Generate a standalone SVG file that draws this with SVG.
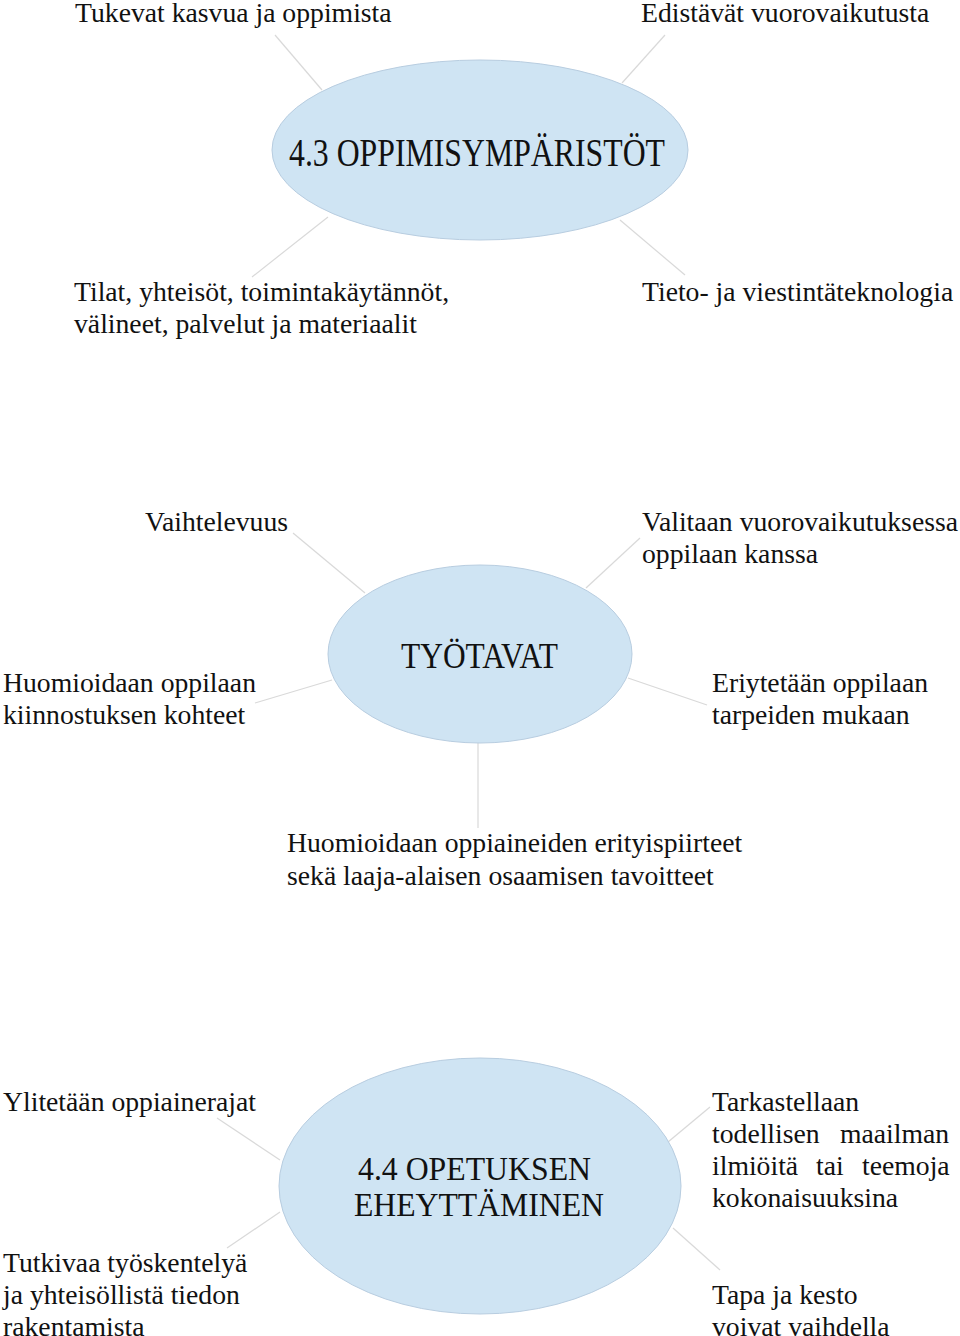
<svg xmlns="http://www.w3.org/2000/svg" width="960" height="1336" viewBox="0 0 960 1336">
<style>
.bg{fill:#ffffff}
.node{fill:#cfe4f3;stroke:#b8cde0;stroke-width:1}
.lbl{font-family:"Liberation Serif","Times New Roman",serif;font-size:27.7px;fill:#111111}
.ttl{font-family:"Liberation Serif","Times New Roman",serif;fill:#111111}
.conn line{stroke:#d9d9d9;stroke-width:1.2}
</style>
<rect class="bg" x="0" y="0" width="960" height="1336"/>
<g id="connectors" class="conn">
<line x1="275" y1="35" x2="322" y2="90"/>
<line x1="665" y1="35" x2="622" y2="83"/>
<line x1="328" y1="217" x2="252" y2="277"/>
<line x1="620" y1="220" x2="685" y2="275"/>
<line x1="293" y1="533" x2="365" y2="593"/>
<line x1="640" y1="538" x2="586" y2="588"/>
<line x1="332" y1="680" x2="255" y2="703"/>
<line x1="628" y1="678" x2="707" y2="705"/>
<line x1="478" y1="743" x2="478" y2="828"/>
<line x1="217" y1="1118" x2="280" y2="1160"/>
<line x1="280" y1="1212" x2="227" y2="1248"/>
<line x1="710" y1="1107" x2="668" y2="1142"/>
<line x1="673" y1="1228" x2="720" y2="1270"/>
</g>
<g id="n-oppimisymparistot">
<ellipse class="node" cx="480" cy="150" rx="208" ry="90"/>
<text class="ttl" x="289" y="166" font-size="40" textLength="376" lengthAdjust="spacingAndGlyphs">4.3 OPPIMISYMPÄRISTÖT</text>
</g>
<g id="n-tukevat"><text class="lbl" x="75" y="22">Tukevat kasvua ja oppimista</text></g>
<g id="n-edistavat"><text class="lbl" x="641" y="22">Edistävät vuorovaikutusta</text></g>
<g id="n-tilat"><text class="lbl" x="74" y="301">Tilat, yhteisöt, toimintakäytännöt,<tspan x="74" y="333">välineet, palvelut ja materiaalit</tspan></text></g>
<g id="n-tieto"><text class="lbl" x="642" y="301">Tieto- ja viestintäteknologia</text></g>
<g id="n-tyotavat">
<ellipse class="node" cx="480" cy="654" rx="152" ry="89"/>
<text class="ttl" x="401" y="668" font-size="36" textLength="157" lengthAdjust="spacingAndGlyphs">TYÖTAVAT</text>
</g>
<g id="n-vaihtelevuus"><text class="lbl" x="145" y="531">Vaihtelevuus</text></g>
<g id="n-valitaan"><text class="lbl" x="642" y="531">Valitaan vuorovaikutuksessa<tspan x="642" y="563">oppilaan kanssa</tspan></text></g>
<g id="n-huomioidaan-kiinnostus"><text class="lbl" x="3" y="692">Huomioidaan oppilaan<tspan x="3" y="724">kiinnostuksen kohteet</tspan></text></g>
<g id="n-eriytetaan"><text class="lbl" x="712" y="692">Eriytetään oppilaan<tspan x="712" y="724">tarpeiden mukaan</tspan></text></g>
<g id="n-oppiaineiden"><text class="lbl" x="287" y="852">Huomioidaan oppiaineiden erityispiirteet<tspan x="287" y="885">sekä laaja-alaisen osaamisen tavoitteet</tspan></text></g>
<g id="n-eheyttaminen">
<ellipse class="node" cx="480" cy="1186" rx="201" ry="128"/>
<text class="ttl" x="358" y="1180" font-size="34" textLength="233" lengthAdjust="spacingAndGlyphs">4.4 OPETUKSEN</text>
<text class="ttl" x="354" y="1216" font-size="34" textLength="250" lengthAdjust="spacingAndGlyphs">EHEYTTÄMINEN</text>
</g>
<g id="n-ylitetaan"><text class="lbl" x="3" y="1111">Ylitetään oppiainerajat</text></g>
<g id="n-tutkivaa"><text class="lbl" x="3" y="1272">Tutkivaa työskentelyä<tspan x="3" y="1304">ja yhteisöllistä tiedon</tspan><tspan x="3" y="1336">rakentamista</tspan></text></g>
<g id="n-tarkastellaan"><text class="lbl" x="712" y="1111">Tarkastellaan<tspan x="712" y="1143">todellisen</tspan><tspan x="840" y="1143">maailman</tspan><tspan x="712" y="1175">ilmiöitä</tspan><tspan x="816" y="1175">tai</tspan><tspan x="862" y="1175">teemoja</tspan><tspan x="712" y="1207">kokonaisuuksina</tspan></text></g>
<g id="n-tapa"><text class="lbl" x="712" y="1304">Tapa ja kesto<tspan x="712" y="1336">voivat vaihdella</tspan></text></g>
</svg>
